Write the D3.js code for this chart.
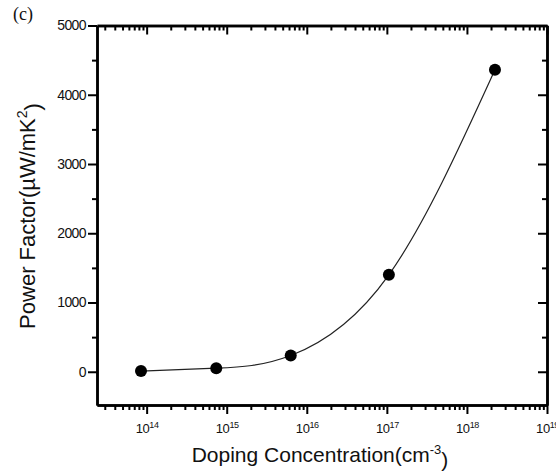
<!DOCTYPE html>
<html lang="en">
<head>
    <meta charset="UTF-8">
    <title>Power Factor vs Doping Concentration</title>
    <script src="https://d3js.org/d3.v7.min.js"></script>
    <style>
        body { margin: 0; background: #fff; }
        svg text { font-family: "Liberation Sans", Arial, sans-serif; fill: #111; }
        .axis path { stroke: #000; stroke-width: 2.5; }
        .axis line { stroke: #000; stroke-width: 2; }
    </style>
</head>
<body>
    <svg id="chart" width="556" height="472"></svg>

    <script>
        // Datos
        const dopingConc = [8.5e13, 7.4e14, 6.3e15, 1.06e17, 2.24e18];   // cm^-3
        const powerFactor = [10, 52, 235, 1400, 4360];                  // uW/mK^2
        const yTicks = [0, 1000, 2000, 3000, 4000, 5000];
        const xExponents = [14, 15, 16, 17, 18, 19];

        const data = dopingConc.map((c, i) => ({c: c, pf: powerFactor[i]}));

        // Marco del grafico
        const plotLeft = 97, plotRight = 547, plotTop = 25.5, plotBottom = 405;

        const svg = d3.select("#chart");

        // Escalas
        const x = d3.scaleLog()
                    .domain([Math.pow(10, 13.38), 1e19])
                    .range([plotLeft, plotRight]);
        const y = d3.scaleLinear()
                    .domain([-480, 5000])
                    .range([plotBottom, plotTop]);

        // Ticks menores
        const xMajor = xExponents.map(e => Math.pow(10, e));
        const xMinor = [];
        for (let e = 13; e <= 18; e++) {
            for (let k = 2; k <= 9; k++) {
                const v = k * Math.pow(10, e);
                if (v >= x.domain()[0] && v <= x.domain()[1]) xMinor.push(v);
            }
        }
        const yMinor = d3.range(-500, 5001, 500).filter(v => v % 1000 !== 0 && v >= y.domain()[0]);

        // Eje inferior
        svg.append("g").attr("class", "axis")
           .attr("transform", `translate(0,${plotBottom})`)
           .call(d3.axisBottom(x).tickValues(xMinor).tickSize(5).tickSizeOuter(0).tickFormat(""));
        const xAxis = svg.append("g").attr("class", "axis")
           .attr("transform", `translate(0,${plotBottom})`)
           .call(d3.axisBottom(x).tickValues(xMajor).tickSize(9).tickSizeOuter(0));
        xAxis.selectAll(".tick text")
             .attr("y", 28).attr("dy", 0)
             .attr("font-size", "13px")
             .style("letter-spacing", "-0.4px")
             .each(function(d) {
                 const t = d3.select(this);
                 t.text("10");
                 t.append("tspan")
                  .attr("dy", "-0.6em")
                  .attr("font-size", "9px")
                  .text(Math.round(Math.log10(d)));
             });

        // Eje superior (ticks hacia dentro)
        svg.append("g").attr("class", "axis")
           .attr("transform", `translate(0,${plotTop})`)
           .call(d3.axisTop(x).tickValues(xMinor).tickSize(-5).tickSizeOuter(0).tickFormat(""));
        svg.append("g").attr("class", "axis")
           .attr("transform", `translate(0,${plotTop})`)
           .call(d3.axisTop(x).tickValues(xMajor).tickSize(-9).tickSizeOuter(0).tickFormat(""));

        // Eje izquierdo
        svg.append("g").attr("class", "axis")
           .attr("transform", `translate(${plotLeft},0)`)
           .call(d3.axisLeft(y).tickValues(yMinor).tickSize(5).tickSizeOuter(0).tickFormat(""));
        const yAxis = svg.append("g").attr("class", "axis")
           .attr("transform", `translate(${plotLeft},0)`)
           .call(d3.axisLeft(y).tickValues(yTicks).tickSize(9).tickSizeOuter(0)
                   .tickPadding(2).tickFormat(d3.format("d")));
        yAxis.selectAll(".tick text")
             .attr("font-size", "14px")
             .style("letter-spacing", "-0.6px");

        // Eje derecho (ticks hacia dentro)
        svg.append("g").attr("class", "axis")
           .attr("transform", `translate(${plotRight},0)`)
           .call(d3.axisRight(y).tickValues(yMinor).tickSize(-5).tickSizeOuter(0).tickFormat(""));
        svg.append("g").attr("class", "axis")
           .attr("transform", `translate(${plotRight},0)`)
           .call(d3.axisRight(y).tickValues(yTicks).tickSize(-9).tickSizeOuter(0).tickFormat(""));

        // Curva suavizada
        const line = d3.line()
                       .x(d => x(d.c))
                       .y(d => y(d.pf))
                       .curve(d3.curveNatural);

        svg.append("path")
           .datum(data)
           .attr("fill", "none")
           .attr("stroke", "#222")
           .attr("stroke-width", 1.2)
           .attr("d", line);

        // Puntos
        svg.selectAll("circle.pt")
           .data(data)
           .enter()
           .append("circle")
           .attr("class", "pt")
           .attr("cx", d => x(d.c))
           .attr("cy", d => y(d.pf))
           .attr("r", 6)
           .attr("fill", "#000");

        // Titulos de ejes
        const xTitle = svg.append("text")
           .attr("x", 320)
           .attr("y", 462)
           .attr("text-anchor", "middle")
           .attr("font-size", "21px")
           .text("Doping Concentration(cm");
        xTitle.append("tspan").attr("dy", "-0.6em").attr("font-size", "13px").text("-3");
        xTitle.append("tspan").attr("dy", "0.6em").text(")");

        const yTitle = svg.append("text")
           .attr("transform", "rotate(-90)")
           .attr("x", -216)
           .attr("y", 35)
           .attr("text-anchor", "middle")
           .attr("font-size", "22px")
           .text("Power Factor(\u00b5W/mK");
        yTitle.append("tspan").attr("dy", "-0.6em").attr("font-size", "14px").text("2");
        yTitle.append("tspan").attr("dy", "0.6em").text(")");

        // Etiqueta del panel
        svg.append("text")
           .attr("x", 13)
           .attr("y", 20)
           .attr("font-size", "18px")
           .style("font-family", "'Liberation Serif', 'Times New Roman', serif")
           .text("(c)");
    </script>
</body>
</html>
